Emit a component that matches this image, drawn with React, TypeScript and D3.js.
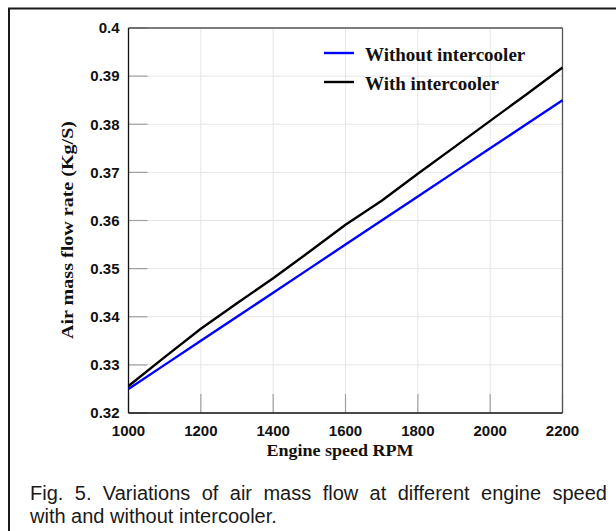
import React, { useLayoutEffect, useRef, useState } from "react";
import * as d3 from "d3";

const rpm = [1000, 1100, 1200, 1300, 1400, 1500, 1600, 1700, 1800, 1900, 2000, 2100, 2200];
const withoutIntercooler = [0.325, 0.33, 0.335, 0.34, 0.345, 0.35, 0.355, 0.36, 0.365, 0.37, 0.375, 0.38, 0.385];
const withIntercooler = [0.3256, 0.3316, 0.3375, 0.3428, 0.348, 0.3535, 0.3591, 0.3641, 0.3697, 0.3752, 0.3807, 0.3862, 0.3918];
const xTicks = [1000, 1200, 1400, 1600, 1800, 2000, 2200];
const yTicks = [0.32, 0.33, 0.34, 0.35, 0.36, 0.37, 0.38, 0.39, 0.4];
const seriesNames = ["Without intercooler", "With intercooler"];
const seriesColors = ["#0000ff", "#000000"];
const captionLines = [
  "Fig. 5. Variations of air mass flow at different engine speed",
  "with and without intercooler.",
];

const W = 616;
const H = 531;
const M = { left: 128.5, right: 562.5, top: 28, bottom: 413 };
const SANS = "'Liberation Sans', Arial, sans-serif";
const SERIF = "'Liberation Serif', 'Times New Roman', serif";

export default function App() {
  const x = d3.scaleLinear().domain([1000, 2200]).range([M.left, M.right]);
  const y = d3.scaleLinear().domain([0.32, 0.4]).range([M.bottom, M.top]);
  const line = d3
    .line<number>()
    .x((_, i) => x(rpm[i]))
    .y((d) => y(d));
  const series = [withoutIntercooler, withIntercooler];

  const capRef = useRef<SVGTextElement>(null);
  const [ws, setWs] = useState(0);
  useLayoutEffect(() => {
    if (capRef.current) {
      const len = capRef.current.getComputedTextLength();
      const spaces = captionLines[0].split(" ").length - 1;
      const target = 607 - 30;
      setWs(Math.max(0, (target - len) / spaces));
    }
  }, []);

  return (
    <svg
      width={W}
      height={H}
      style={{ position: "absolute", left: 0, top: 0, background: "#fff" }}
    >
      <rect x={0} y={0} width={W} height={H} fill="#fff" />
      {/* outer frame */}
      <rect x={9} y={8.5} width={W + 20} height={H + 20} fill="none" stroke="#1a1a1a" strokeWidth={2} />

      {/* grid */}
      {xTicks.map((t) => (
        <line key={"gx" + t} x1={x(t)} x2={x(t)} y1={M.top} y2={M.bottom} stroke="#e6e6e6" strokeWidth={1} />
      ))}
      {yTicks.map((t) => (
        <line key={"gy" + t} x1={M.left} x2={M.right} y1={y(t)} y2={y(t)} stroke="#e6e6e6" strokeWidth={1} />
      ))}
      {/* inner ticks */}
      {xTicks.map((t) => (
        <line key={"tx" + t} x1={x(t)} x2={x(t)} y1={M.bottom} y2={M.bottom - 19} stroke="#a0a0a0" strokeWidth={1.2} />
      ))}
      {yTicks.map((t) => (
        <line key={"ty" + t} x1={M.left} x2={M.left + 19} y1={y(t)} y2={y(t)} stroke="#a0a0a0" strokeWidth={1.2} />
      ))}

      {/* frame of plot */}
      <line x1={M.left} x2={M.right} y1={M.top} y2={M.top} stroke="#555" strokeWidth={1.3} />
      <line x1={M.right} x2={M.right} y1={M.top} y2={M.bottom} stroke="#555" strokeWidth={1.3} />
      <line x1={M.left} x2={M.right} y1={M.bottom} y2={M.bottom} stroke="#111" strokeWidth={1.3} />
      <line x1={M.left} x2={M.left} y1={M.top} y2={M.bottom} stroke="#111" strokeWidth={1.3} />

      {/* series */}
      {series.map((s, i) => (
        <path key={"s" + i} d={line(s) || ""} fill="none" stroke={seriesColors[i]} strokeWidth={2.4} strokeLinejoin="round" />
      ))}

      {/* tick labels */}
      {yTicks.map((t) => (
        <text key={"ly" + t} x={M.left - 9} y={y(t)} dy="0.35em" textAnchor="end" fontFamily={SANS} fontWeight="bold" fontSize={15} fill="#111">
          {d3.format("")(+t.toFixed(2))}
        </text>
      ))}
      {xTicks.map((t) => (
        <text key={"lx" + t} x={x(t)} y={436} textAnchor="middle" fontFamily={SANS} fontWeight="bold" fontSize={15} fill="#111">
          {t}
        </text>
      ))}

      {/* axis titles */}
      <text
        x={266.5}
        y={455.5}
        fontFamily={SERIF}
        fontWeight="bold"
        fontSize={17}
        fill="#111"
        textLength={147}
        lengthAdjust="spacingAndGlyphs"
      >
        Engine speed RPM
      </text>
      <text
        transform={`translate(73, 339) rotate(-90)`}
        fontFamily={SERIF}
        fontWeight="bold"
        fontSize={17}
        fill="#111"
        textLength={218}
        lengthAdjust="spacingAndGlyphs"
      >
        Air mass flow rate (Kg/S)
      </text>

      {/* legend */}
      {seriesNames.map((n, i) => (
        <g key={"lg" + i}>
          <line x1={324} x2={354} y1={53 + i * 29} y2={53 + i * 29} stroke={seriesColors[i]} strokeWidth={2.4} />
          <text x={365} y={61 + i * 29} fontFamily={SERIF} fontWeight="bold" fontSize={19} fill="#111">
            {n}
          </text>
        </g>
      ))}

      {/* caption */}
      <text ref={capRef} x={30} y={500} fontFamily={SANS} fontSize={20} fill="#1a1a1a" style={{ wordSpacing: ws }}>
        {captionLines[0]}
      </text>
      <text x={30} y={523} fontFamily={SANS} fontSize={20} fill="#1a1a1a">
        {captionLines[1]}
      </text>
    </svg>
  );
}
